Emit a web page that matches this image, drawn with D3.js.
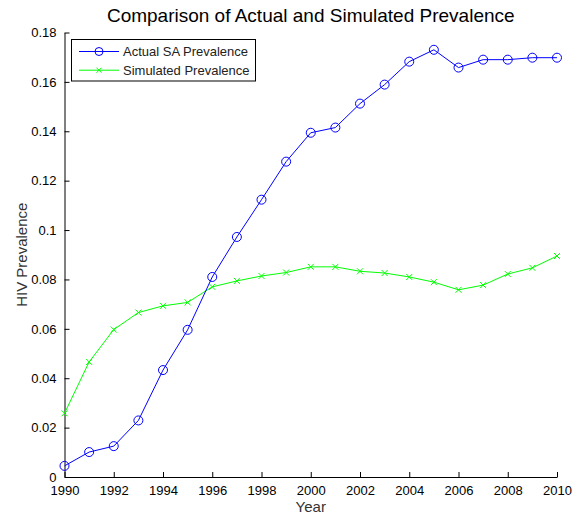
<!DOCTYPE html>
<html>
<head>
<meta charset="utf-8">
<script src="https://cdn.jsdelivr.net/npm/d3@7"></script>
<style>
  body { margin: 0; background: #fff; }
  text { font-family: "Liberation Sans", Arial, sans-serif; }
</style>
</head>
<body>
<div id="chart"></div>
<script>
// data
const years = d3.range(1990, 2011);
const actualSA = [0.0045, 0.0101, 0.0125, 0.0229, 0.0433, 0.0596, 0.0810, 0.0972, 0.1123, 0.1277,
                  0.1394, 0.1415, 0.1512, 0.1589, 0.1682, 0.1730, 0.1658, 0.1690, 0.1690, 0.1698, 0.1698];
const simulated = [0.0258, 0.0466, 0.0597, 0.0666, 0.0693, 0.0707, 0.0770, 0.0794, 0.0814, 0.0828,
                   0.0851, 0.0851, 0.0833, 0.0826, 0.0810, 0.0789, 0.0758, 0.0777, 0.0822, 0.0847, 0.0895];
const yTicks = [0, 0.02, 0.04, 0.06, 0.08, 0.1, 0.12, 0.14, 0.16, 0.18];
const xTicks = d3.range(1990, 2011, 2);
const seriesNames = ['Actual SA Prevalence', 'Simulated Prevalence'];

const width = 585, height = 517;
const margin = {left: 64.5, right: 28, top: 32.5, bottom: 40};

const svg = d3.select('#chart').append('svg')
  .attr('width', width)
  .attr('height', height);

const x = d3.scaleLinear().domain([1990, 2010]).range([margin.left, width - margin.right]);
const y = d3.scaleLinear().domain([0, 0.18]).range([height - margin.bottom, margin.top]);

// axes, ticks point inward like matlab
const xAxis = svg.append('g')
  .attr('transform', `translate(0,${y(0)})`)
  .call(d3.axisBottom(x).tickValues(xTicks).tickFormat(d3.format('d')).tickSizeInner(-5).tickSizeOuter(0).tickPadding(9));
const yAxis = svg.append('g')
  .attr('transform', `translate(${x(1990)},0)`)
  .call(d3.axisLeft(y).tickValues(yTicks).tickFormat(d => d === 0 ? '0' : String(+d.toFixed(2))).tickSizeInner(-5).tickSizeOuter(0).tickPadding(8));

[xAxis, yAxis].forEach(g => {
  g.selectAll('path, line').attr('stroke', '#000');
  g.selectAll('text').attr('font-size', 13).attr('fill', '#000')
   .attr('font-family', '"Liberation Sans", Arial, sans-serif');
});

// title + axis labels
svg.append('text')
  .attr('x', (x(1990) + x(2010)) / 2)
  .attr('y', 22)
  .attr('text-anchor', 'middle')
  .attr('font-size', 19)
  .text('Comparison of Actual and Simulated Prevalence');

svg.append('text')
  .attr('x', (x(1990) + x(2010)) / 2)
  .attr('y', 512)
  .attr('text-anchor', 'middle')
  .attr('font-size', 15)
  .attr('fill', '#333')
  .text('Year');

svg.append('text')
  .attr('transform', `translate(27,${(y(0) + y(0.18)) / 2}) rotate(-90)`)
  .attr('text-anchor', 'middle')
  .attr('font-size', 15)
  .attr('fill', '#333')
  .text('HIV Prevalence');

const line = d3.line().x((d, i) => x(years[i])).y(d => y(d));

// simulated (green, x markers)
svg.append('path')
  .datum(simulated)
  .attr('d', line)
  .attr('fill', 'none')
  .attr('stroke', '#00ff00')
  .attr('stroke-width', 1);

const xMark = (cx, cy, r) => `M${cx - r},${cy - r}L${cx + r},${cy + r}M${cx - r},${cy + r}L${cx + r},${cy - r}`;

svg.append('g').selectAll('path')
  .data(simulated)
  .enter().append('path')
  .attr('d', (d, i) => xMark(x(years[i]), y(d), 3))
  .attr('stroke', '#00ff00')
  .attr('stroke-width', 1);

// actual (blue, open circles)
svg.append('path')
  .datum(actualSA)
  .attr('d', line)
  .attr('fill', 'none')
  .attr('stroke', '#0000ff')
  .attr('stroke-width', 1);

svg.append('g').selectAll('circle')
  .data(actualSA)
  .enter().append('circle')
  .attr('cx', (d, i) => x(years[i]))
  .attr('cy', d => y(d))
  .attr('r', 4.5)
  .attr('fill', 'none')
  .attr('stroke', '#0000ff')
  .attr('stroke-width', 1);

// legend
const legend = svg.append('g');
legend.append('rect')
  .attr('x', 71.5).attr('y', 39.5)
  .attr('width', 184).attr('height', 41.5)
  .attr('fill', '#fff').attr('stroke', '#000');

const legColors = ['#0000ff', '#00ff00'];
seriesNames.forEach((name, i) => {
  const ly = 51.5 + i * 18.7;
  legend.append('line')
    .attr('x1', 79).attr('x2', 119).attr('y1', ly).attr('y2', ly)
    .attr('stroke', legColors[i]);
  if (i === 0) {
    legend.append('circle').attr('cx', 99).attr('cy', ly).attr('r', 4)
      .attr('fill', 'none').attr('stroke', legColors[i]);
  } else {
    legend.append('path').attr('d', xMark(99, ly, 2.5)).attr('stroke', legColors[i]);
  }
  legend.append('text')
    .attr('x', 123).attr('y', ly + 4.5)
    .attr('font-size', 13)
    .attr('fill', '#222')
    .text(name);
});
</script>
</body>
</html>
